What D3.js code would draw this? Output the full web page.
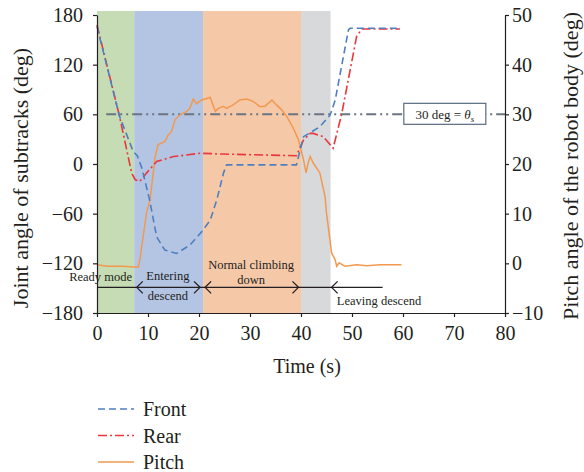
<!DOCTYPE html>
<html>
<head>
<meta charset="utf-8">
<script src="https://cdn.jsdelivr.net/npm/d3@7"></script>
<style>
  body { margin: 0; background: #fff; }
  svg { font-family: "Liberation Serif", "Times New Roman", serif; }
  .axis path, .axis line { stroke: #231f20; stroke-width: 1.2; }
  .axis text { font-size: 20px; fill: #231f20; font-family: "Liberation Serif", serif; }
</style>
</head>
<body>
<div id="chart"></div>
<script>
var svgWidth = 584;
var svgHeight = 472;

var margin = { top: 15, bottom: 159, right: 79, left: 97 };
var width = svgWidth - margin.left - margin.right;
var height = svgHeight - margin.top - margin.bottom;

// phases (time in s)
var phaseStart = [0, 7.3, 20.8, 40];
var phaseEnd = [7.3, 20.8, 40, 45.8];
var phaseColor = ["#c5dcb4", "#b4c5e4", "#f5c8a8", "#d8d9db"];

// front subtrack joint angle (deg)
var frontTime = [0, 4.4, 7.1, 7.9, 8.8, 10.3, 11.7, 13.3, 15.6, 18.2, 20.5, 22.2, 23.5, 24.8, 25.4, 30, 35, 39.1, 40.5, 43.7, 45.7, 46.7, 49.3, 49.6, 59.4];
var frontAngle = [166, 58, 15, 10, -5, -43, -88, -104, -108, -98, -82, -68, -43, -11, -1, -1, -1, -1, 33, 45, 59, 77, 162, 164, 164];

// rear subtrack joint angle (deg)
var rearTime = [0, 4.4, 6.8, 7.5, 8.4, 9.7, 11.7, 15, 20.2, 24.8, 39.1, 40.5, 41.8, 42.4, 44.4, 46.3, 48, 50.9, 51.9, 59.4];
var rearAngle = [168, 58, -11, -19, -21, -11, 3, 9, 13, 12, 10, 29, 37, 37, 33, 19, 61, 154, 163, 163];

// pitch of robot body (deg, right axis)
var pitchTime = [0, 2, 5, 8.1, 8.4, 9.7, 10.4, 11.4, 12, 13.3, 14, 14.6, 15.3, 16.3, 17.6, 18.2, 18.9, 19.5, 20.5, 22.2, 23.2, 23.8, 24.8, 25.4, 26.7, 28, 29.4, 30.6, 31.9, 32.9, 34.3, 35.2, 36.2, 37.2, 38.5, 39.5, 40.5, 41, 41.4, 41.8, 42.4, 43.7, 44.7, 45, 46, 46.7, 47, 47.5, 48.6, 50.9, 52.9, 55.5, 59.7];
var pitchAngle = [-0.3, -0.6, -0.6, -0.8, 0.7, 10.1, 12.8, 21.5, 23.9, 24.5, 25.9, 26.5, 28.9, 29.9, 30.6, 31.2, 33.1, 32.1, 32.9, 33.4, 30.6, 31.2, 31.6, 31.2, 31.9, 32.9, 33.1, 32.6, 31.6, 31.6, 32.9, 31.9, 30.9, 29.6, 27.2, 24.9, 20.8, 18.2, 20.2, 21.5, 20.2, 18.2, 13.5, 10.1, 2.1, 0.7, -0.6, 0.1, -0.6, -0.3, -0.5, -0.3, -0.3];

var xTicks = [0, 10, 20, 30, 40, 50, 60, 70, 80];
var leftTicks = [-180, -120, -60, 0, 60, 120, 180];
var rightTicks = [-10, 0, 10, 20, 30, 40, 50];

var refAngle = 60;
var refStart = 1.8;

var svg = d3.select("#chart")
    .append("svg")
    .attr("width", svgWidth)
    .attr("height", svgHeight);

var chartGroup = svg.append("g")
    .attr("transform", `translate(${margin.left}, ${margin.top})`);

var xScale = d3.scaleLinear().domain([0, 80]).range([0, width]);
var yLeft = d3.scaleLinear().domain([-180, 180]).range([height, 0]);
var yRight = d3.scaleLinear().domain([-10, 50]).range([height, 0]);

// background bands for phases
chartGroup.selectAll(".band")
    .data(phaseStart)
    .enter()
    .append("rect")
    .attr("x", (d, i) => xScale(d))
    .attr("width", (d, i) => xScale(phaseEnd[i]) - xScale(d))
    .attr("y", yLeft(184.8))
    .attr("height", (d) => height - yLeft(184.8))
    .attr("fill", (d, i) => phaseColor[i]);

// reference line, 30 deg pitch = 60 deg joint
chartGroup.append("line")
    .attr("x1", xScale(refStart))
    .attr("x2", width)
    .attr("y1", yLeft(refAngle))
    .attr("y2", yLeft(refAngle))
    .attr("stroke", "#6b7582")
    .attr("stroke-width", 2)
    .attr("stroke-dasharray", "10,4,2,4,2,4");

var leftLine = d3.line()
    .x(d => xScale(d[0]))
    .y(d => yLeft(d[1]));

var rightLine = d3.line()
    .x(d => xScale(d[0]))
    .y(d => yRight(d[1]));

chartGroup.append("path")
    .datum(pitchTime.map((t, i) => [t, pitchAngle[i]]))
    .attr("d", rightLine)
    .attr("fill", "none")
    .attr("stroke", "#f3994f")
    .attr("stroke-width", 1.5);

chartGroup.append("path")
    .datum(rearTime.map((t, i) => [t, rearAngle[i]]))
    .attr("d", leftLine)
    .attr("fill", "none")
    .attr("stroke", "#e8373d")
    .attr("stroke-width", 1.6)
    .attr("stroke-dasharray", "9,3,2,3");

chartGroup.append("path")
    .datum(frontTime.map((t, i) => [t, frontAngle[i]]))
    .attr("d", leftLine)
    .attr("fill", "none")
    .attr("stroke", "#4f7fc0")
    .attr("stroke-width", 1.6)
    .attr("stroke-dasharray", "7,4");

// label box for the reference line
var boxX = xScale(68.2), boxY = yLeft(refAngle);
chartGroup.append("rect")
    .attr("x", boxX - 41)
    .attr("y", boxY - 11)
    .attr("width", 82)
    .attr("height", 21)
    .attr("fill", "#fff")
    .attr("stroke", "#5a6b80")
    .attr("stroke-width", 1.2);

var boxText = chartGroup.append("text")
    .attr("x", boxX)
    .attr("y", boxY + 4.5)
    .attr("text-anchor", "middle")
    .style("font-size", "13px")
    .style("fill", "#231f20");
boxText.append("tspan").text("30 deg = ");
boxText.append("tspan").style("font-style", "italic").text("θ");
boxText.append("tspan").style("font-style", "italic").style("font-size", "9px").attr("dy", 3).text("s");

// phase arrows
var arrowY = yLeft(-149);
chartGroup.append("line")
    .attr("x1", 0)
    .attr("x2", xScale(56))
    .attr("y1", arrowY)
    .attr("y2", arrowY)
    .attr("stroke", "#231f20")
    .attr("stroke-width", 1.3);

var leftHeads = [7.8, 21.2, 46.0];
var rightHeads = [20.2, 39.5];
chartGroup.selectAll(".lhead")
    .data(leftHeads)
    .enter()
    .append("path")
    .attr("d", d => `M${xScale(d) + 6},${arrowY - 6}L${xScale(d)},${arrowY}L${xScale(d) + 6},${arrowY + 6}`)
    .attr("fill", "none")
    .attr("stroke", "#231f20")
    .attr("stroke-width", 1.3);
chartGroup.selectAll(".rhead")
    .data(rightHeads)
    .enter()
    .append("path")
    .attr("d", d => `M${xScale(d) - 6},${arrowY - 6}L${xScale(d)},${arrowY}L${xScale(d) - 6},${arrowY + 6}`)
    .attr("fill", "none")
    .attr("stroke", "#231f20")
    .attr("stroke-width", 1.3);

var phaseLabels = [
    { text: "Ready mode", t: 0.7, v: -141.5 },
    { text: "Entering", t: 13.9, v: -140.5 },
    { text: "descend", t: 13.9, v: -164 },
    { text: "Normal climbing", t: 30.2, v: -127 },
    { text: "down", t: 30.2, v: -145 },
    { text: "Leaving descend", t: 55.3, v: -170 }
];
chartGroup.selectAll(".phase-label")
    .data(phaseLabels)
    .enter()
    .append("text")
    .attr("x", d => xScale(d.t))
    .attr("y", d => yLeft(d.v))
    .attr("text-anchor", "middle")
    .style("font-size", "12.5px")
    .style("fill", "#231f20")
    .text(d => d.text);

// axes
chartGroup.append("g")
    .attr("class", "axis")
    .call(d3.axisLeft(yLeft).tickValues(leftTicks).tickSize(4).tickSizeOuter(0).tickPadding(10));

chartGroup.append("g")
    .attr("class", "axis")
    .attr("transform", `translate(${width}, 0)`)
    .call(d3.axisRight(yRight).tickValues(rightTicks).tickSize(4).tickSizeOuter(0).tickPadding(3));

chartGroup.append("g")
    .attr("class", "axis")
    .attr("transform", `translate(0, ${height})`)
    .call(d3.axisBottom(xScale).tickValues(xTicks).tickSize(4).tickSizeOuter(0).tickPadding(9));

// axis titles
svg.append("text")
    .attr("transform", "rotate(-90)")
    .attr("x", -178)
    .attr("y", 28)
    .attr("text-anchor", "middle")
    .style("font-size", "22px")
    .style("fill", "#231f20")
    .text("Joint angle of subtracks (deg)");

svg.append("text")
    .attr("transform", "rotate(-90)")
    .attr("x", -166)
    .attr("y", 578)
    .attr("text-anchor", "middle")
    .style("font-size", "22px")
    .style("fill", "#231f20")
    .text("Pitch angle of the robot body (deg)");

svg.append("text")
    .attr("x", 307)
    .attr("y", 373)
    .attr("text-anchor", "middle")
    .style("font-size", "20px")
    .style("fill", "#231f20")
    .text("Time (s)");

// legend
var legendNames = ["Front", "Rear", "Pitch"];
var legendColors = ["#4f7fc0", "#e8373d", "#f3994f"];
var legendDash = ["7,4", "9,3,2,3", null];
var legend = svg.selectAll(".legend")
    .data(legendNames)
    .enter()
    .append("g")
    .attr("transform", (d, i) => `translate(98, ${409 + i * 26.5})`);

legend.append("line")
    .attr("x1", 0)
    .attr("x2", 36)
    .attr("stroke", (d, i) => legendColors[i])
    .attr("stroke-width", 1.6)
    .attr("stroke-dasharray", (d, i) => legendDash[i]);

legend.append("text")
    .attr("x", 45)
    .attr("y", 7)
    .style("font-size", "20px")
    .style("fill", "#231f20")
    .text(d => d);
</script>
</body>
</html>
